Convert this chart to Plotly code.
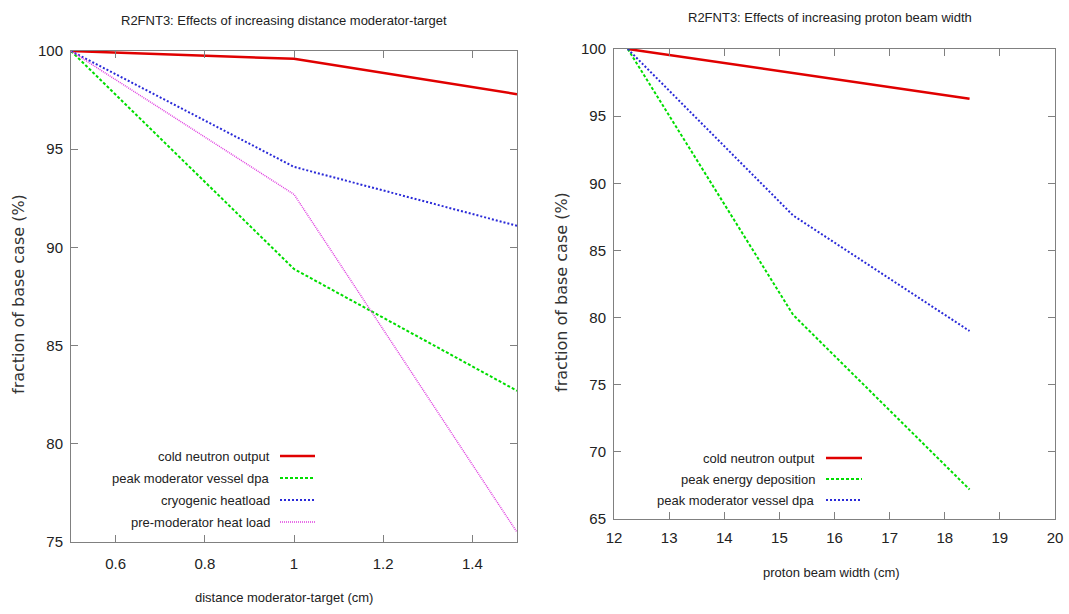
import plotly.graph_objects as go

# ---- data: left panel (distance moderator-target) ----
dist_x = [0.5, 1.0, 1.5]
dist_cold = [100.0, 99.6, 97.8]
dist_dpa = [100.0, 88.9, 82.7]
dist_cryo = [100.0, 94.1, 91.1]
dist_premod = [100.0, 92.7, 75.5]

# ---- data: right panel (proton beam width) ----
beam_x = [12.25, 15.25, 18.45]
beam_cold = [100.0, 98.2, 96.3]
beam_edep = [100.0, 80.2, 67.2]
beam_dpa = [100.0, 87.6, 79.0]

left_ticks = [0.6, 0.8, 1.0, 1.2, 1.4]
left_ticktext = ["0.6", "0.8", "1", "1.2", "1.4"]
left_yticks = [75, 80, 85, 90, 95, 100]
right_ticks = [12, 13, 14, 15, 16, 17, 18, 19, 20]
right_yticks = [65, 70, 75, 80, 85, 90, 95, 100]

RED = "#e00000"
GREEN = "#00dd00"
BLUE = "#2a2ad8"
PINK = "#e040e0"
NARROW = "Liberation Sans Narrow, Arial Narrow, Liberation Sans, Arial, sans-serif"
AX = "#808080"

styles_left = [
    ("cold neutron output", dist_cold, dict(color=RED, width=2.5, dash="solid")),
    ("peak moderator vessel dpa", dist_dpa, dict(color=GREEN, width=2, dash="3px,2px")),
    ("cryogenic heatload", dist_cryo, dict(color=BLUE, width=2, dash="2px,2px")),
    ("pre-moderator heat load", dist_premod, dict(color=PINK, width=1.5, dash="1px,1px")),
]
styles_right = [
    ("cold neutron output", beam_cold, dict(color=RED, width=2.5, dash="solid")),
    ("peak energy deposition", beam_edep, dict(color=GREEN, width=2, dash="3px,2px")),
    ("peak moderator vessel dpa", beam_dpa, dict(color=BLUE, width=2, dash="2px,2px")),
]

fig = go.Figure()
for name, ys, ln in styles_left:
    fig.add_trace(go.Scatter(x=dist_x, y=ys, mode="lines", name=name, line=ln,
                             xaxis="x", yaxis="y", showlegend=False))
for name, ys, ln in styles_right:
    fig.add_trace(go.Scatter(x=beam_x, y=ys, mode="lines", name=name, line=ln,
                             xaxis="x2", yaxis="y2", showlegend=False))

W, H = 1069, 614
def px(x):
    return x / W
def py(y):
    return 1 - y / H

common_axis = dict(showline=True, linecolor=AX, linewidth=1, mirror="allticks",
                   ticks="inside", ticklen=7, tickcolor=AX, showgrid=False,
                   zeroline=False, automargin=False, ticklabeloverflow="allow",
                   tickfont=dict(family=NARROW, size=15, color="#222"))

fig.update_layout(
    width=W, height=H,
    margin=dict(l=0, r=0, t=0, b=0),
    paper_bgcolor="white", plot_bgcolor="white",
    showlegend=False,
    xaxis=dict(domain=[px(71), px(517)], range=[0.5, 1.5], anchor="y",
               tickvals=left_ticks, ticktext=left_ticktext, ticklabelstandoff=8, **common_axis),
    yaxis=dict(domain=[py(542), py(51)], range=[75, 100], anchor="x",
               tickvals=left_yticks, ticklabelstandoff=4, **common_axis),
    xaxis2=dict(domain=[px(614), px(1055)], range=[12, 20], anchor="y2",
                tickvals=right_ticks, ticklabelstandoff=5, **common_axis),
    yaxis2=dict(domain=[py(519), py(49)], range=[65, 100], anchor="x2",
                tickvals=right_yticks, ticklabelstandoff=4, **common_axis),
)

annots = []
shapes = []
def text(x, y, s, size=13, family=NARROW, xanchor="center", angle=0, color="#222"):
    annots.append(dict(x=px(x), y=py(y), xref="paper", yref="paper", text=s,
                       showarrow=False, xanchor=xanchor, yanchor="middle",
                       textangle=angle, font=dict(family=family, size=size, color=color)))

text(284, 20, "R2FNT3: Effects of increasing distance moderator-target")
text(830, 17, "R2FNT3: Effects of increasing proton beam width")
text(284, 597, "distance moderator-target (cm)")
text(831, 572, "proton beam width (cm)")
text(18, 294, "fraction of base case (%)", size=16, family="DejaVu Sans, sans-serif",
     angle=-90, color="#333")
text(561, 292, "fraction of base case (%)", size=16, family="DejaVu Sans, sans-serif",
     angle=-90, color="#333")

# legends (text right-aligned, sample line to the right, as in the original)
for i, (name, _, ln) in enumerate(styles_left):
    yy = 456 + 22 * i
    text(272, yy, name, xanchor="right")
    shapes.append(dict(type="line", xref="paper", yref="paper", x0=px(280), x1=px(315),
                       y0=py(yy), y1=py(yy), line=ln))
for i, (name, _, ln) in enumerate(styles_right):
    yy = 458 + 21 * i
    text(817, yy, name, xanchor="right")
    shapes.append(dict(type="line", xref="paper", yref="paper", x0=px(826), x1=px(862),
                       y0=py(yy), y1=py(yy), line=ln))

fig.update_layout(annotations=annots, shapes=shapes)
fig.write_html(
    "out.html",
    config={"displayModeBar": False},
    post_script="document.body.style.margin='0';document.body.style.overflow='hidden';",
)
